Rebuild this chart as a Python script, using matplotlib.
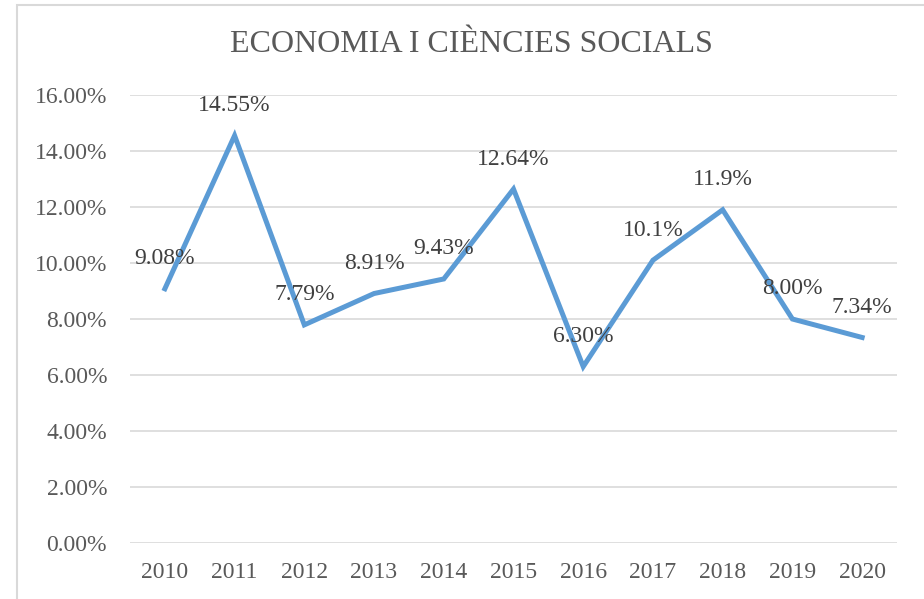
import matplotlib.pyplot as plt
from matplotlib.patches import Rectangle

YEARS = ["2010", "2011", "2012", "2013", "2014", "2015", "2016", "2017", "2018", "2019", "2020"]
VALUES = [9.08, 14.55, 7.79, 8.91, 9.43, 12.64, 6.30, 10.1, 11.9, 8.00, 7.34]
LABELS = ["9.08%", "14.55%", "7.79%", "8.91%", "9.43%", "12.64%", "6.30%", "10.1%", "11.9%", "8.00%", "7.34%"]
Y_TICKS = [0, 2, 4, 6, 8, 10, 12, 14, 16]
TITLE = "ECONOMIA I CIÈNCIES SOCIALS"

TEXT_COLOR = "#595959"
LINE_COLOR = "#5B9BD5"
GRID_COLOR = "#D9D9D9"

plt.rcParams["font.family"] = ["Liberation Serif", "DejaVu Serif"]

W, H = 924, 599
fig = plt.figure(figsize=(W / 100, H / 100), dpi=100)

# chart frame, cropped on the right and bottom like the source screenshot
fig.patches.append(Rectangle((17 / W, -0.1), 1.2, 1 - 5 / H + 0.1, transform=fig.transFigure,
                             fill=False, edgecolor="#D9D9D9", linewidth=1.5))

ax = fig.add_axes([130 / W, 1 - 543 / H, (897 - 130) / W, (543 - 95) / H])
x = list(range(len(YEARS)))
ax.plot(x, VALUES, color=LINE_COLOR, linewidth=3.6, solid_joinstyle="miter", zorder=3)

for xi, v, lab in zip(x, VALUES, LABELS):
    ax.annotate(lab, (xi, v), xytext=(0, 30), textcoords="offset pixels",
                ha="center", va="center", fontsize=17, color="#404040", zorder=4)

ax.set_xlim(-0.5, len(YEARS) - 0.5)
ax.set_ylim(0, 16)
ax.set_yticks(Y_TICKS)
ax.set_yticklabels([f"{t:.2f}%" for t in Y_TICKS])
ax.set_xticks(x)
ax.set_xticklabels(YEARS)
ax.tick_params(axis="both", length=0, labelsize=17, labelcolor=TEXT_COLOR)
ax.tick_params(axis="y", pad=16.5)
ax.tick_params(axis="x", pad=14)
ax.grid(axis="y", color=GRID_COLOR, linewidth=1.2)
ax.set_axisbelow(True)
for s in ax.spines.values():
    s.set_visible(False)

fig.text(471 / W, 1 - 45 / H, TITLE, ha="center", va="center", fontsize=23, color=TEXT_COLOR)

fig.savefig("out.png", dpi=100)
